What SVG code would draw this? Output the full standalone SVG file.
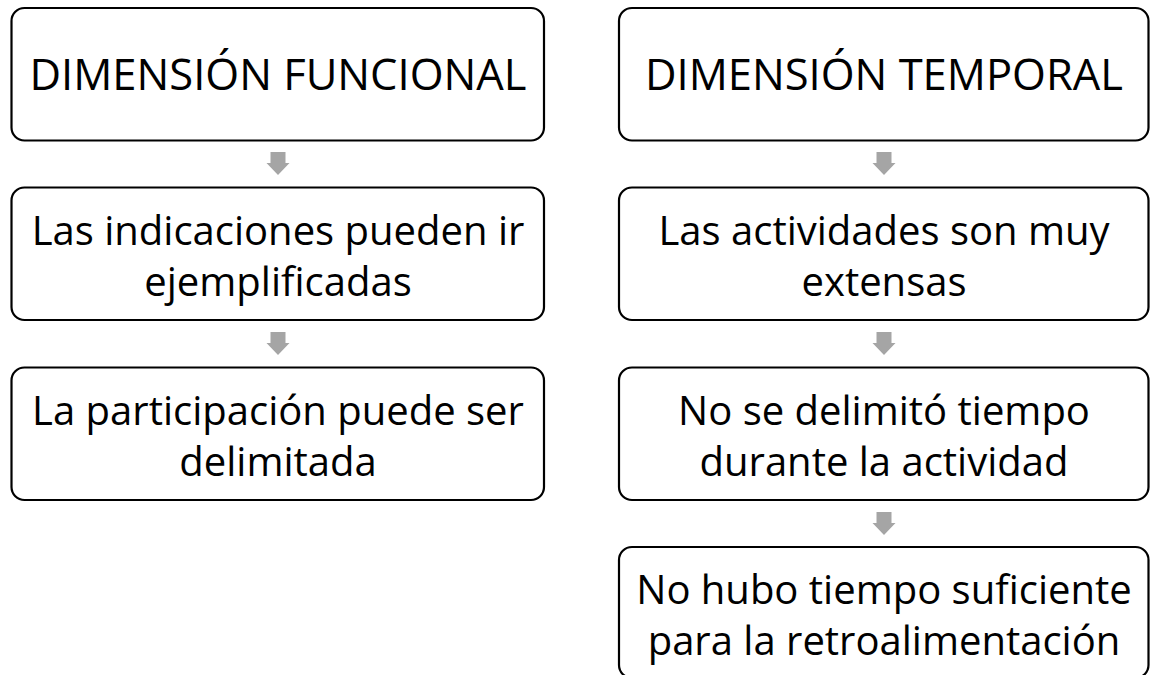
<svg xmlns="http://www.w3.org/2000/svg" width="1152" height="675" viewBox="0 0 1152 675">
<defs>
<style>
.box{fill:#ffffff;stroke:#000000;stroke-width:2.2}
.t{font-family:"Open Sans","Noto Sans","Liberation Sans",sans-serif;fill:#000000;text-anchor:middle}
.title{font-size:43.5px}
.body{font-size:40px}
.arr{fill:#a5a5a5}
</style>
<path id="dn" d="M-7.5,0 H7.5 V11 H11.5 L0,23 L-11.5,11 H-7.5 Z"/>
</defs>
<rect width="1152" height="675" fill="#ffffff"/>
<g id="connectors" class="arr">
<use href="#dn" x="278" y="152"/>
<use href="#dn" x="278" y="332"/>
<use href="#dn" x="884" y="152"/>
<use href="#dn" x="884" y="332"/>
<use href="#dn" x="884" y="512"/>
</g>
<g id="funcional">
<rect class="box" x="11.5" y="8" width="532.5" height="132.5" rx="13"/>
<text class="t title" x="278" y="90">DIMENSIÓN FUNCIONAL</text>
</g>
<g id="indicaciones">
<rect class="box" x="11.5" y="187.5" width="532.5" height="132.5" rx="13"/>
<text class="t body" x="278" y="244.5">Las indicaciones pueden ir</text>
<text class="t body" x="278" y="295.5">ejemplificadas</text>
</g>
<g id="participacion">
<rect class="box" x="11.5" y="367.5" width="532.5" height="132.5" rx="13"/>
<text class="t body" x="278" y="424.5">La participación puede ser</text>
<text class="t body" x="278" y="475.5">delimitada</text>
</g>
<g id="temporal">
<rect class="box" x="619" y="8" width="529.5" height="132.5" rx="13"/>
<text class="t title" x="884" y="90">DIMENSIÓN TEMPORAL</text>
</g>
<g id="actividades">
<rect class="box" x="619" y="187.5" width="529.5" height="132.5" rx="13"/>
<text class="t body" x="884" y="244.5">Las actividades son muy</text>
<text class="t body" x="884" y="295.5">extensas</text>
</g>
<g id="delimito">
<rect class="box" x="619" y="367.5" width="529.5" height="132.5" rx="13"/>
<text class="t body" x="884" y="424.5">No se delimitó tiempo</text>
<text class="t body" x="884" y="475.5">durante la actividad</text>
</g>
<g id="suficiente">
<rect class="box" x="619" y="547" width="529.5" height="131" rx="13"/>
<text class="t body" x="884" y="604">No hubo tiempo suficiente</text>
<text class="t body" x="884" y="655">para la retroalimentación</text>
</g>
</svg>
